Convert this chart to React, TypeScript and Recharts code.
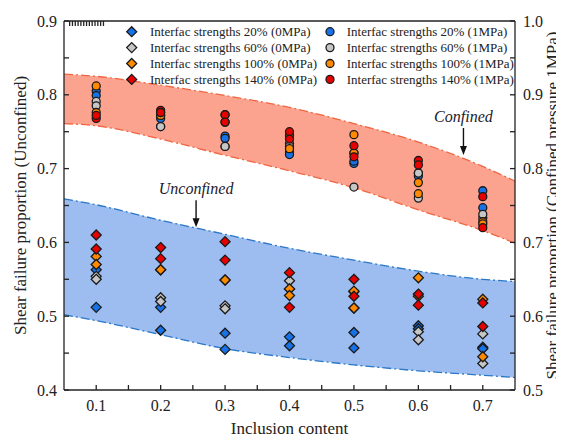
import React from 'react';
import { ComposedChart, Area, Scatter, XAxis, YAxis, ReferenceDot } from 'recharts';

const FONT = '"Liberation Serif", "Times New Roman", serif';

// inclusion content (x) for the measured points
const inclusion = [0.1, 0.2, 0.3, 0.4, 0.5, 0.6, 0.7];

// shaded envelopes
const bandX = [0.05, 0.1, 0.2, 0.3, 0.4, 0.5, 0.6, 0.7, 0.75];
const confinedUpper = [0.928, 0.925, 0.913, 0.899, 0.883, 0.861, 0.836, 0.803, 0.783];
const confinedLower = [0.861, 0.858, 0.840, 0.818, 0.797, 0.774, 0.744, 0.716, 0.699];
const unconfinedUpper = [0.659, 0.651, 0.630, 0.611, 0.592, 0.576, 0.561, 0.550, 0.547];
const unconfinedLower = [0.502, 0.494, 0.475, 0.456, 0.444, 0.434, 0.426, 0.420, 0.417];

// unconfined (0MPa), left axis - two samples per inclusion content
const uc20 = [[0.563, 0.512], [0.512, 0.481], [0.477, 0.455], [0.472, 0.460], [0.478, 0.457], [0.487, 0.483], [0.458, 0.456]];
const uc60 = [[0.554, 0.550], [0.525, 0.520], [0.514, 0.510], [0.548, 0.537], [0.533, 0.511], [0.479, 0.468], [0.476, 0.436]];
const uc100 = [[0.581, 0.570], [0.563, 0.563], [0.549, 0.549], [0.537, 0.528], [0.534, 0.511], [0.552, 0.527], [0.523, 0.445]];
const uc140 = [[0.610, 0.591], [0.593, 0.578], [0.601, 0.576], [0.559, 0.512], [0.550, 0.527], [0.530, 0.515], [0.518, 0.486]];

// confined (1MPa), right axis
const cf20 = [[0.905, 0.899], [0.868, 0.872], [0.844, 0.841], [0.822, 0.819], [0.807, 0.810], [0.790, 0.794], [0.770, 0.747]];
const cf60 = [[0.891, 0.885], [0.857, 0.857], [0.830, 0.830], [0.834, 0.830], [0.775, 0.821], [0.794, 0.760], [0.733, 0.738]];
const cf100 = [[0.912, 0.876], [0.872, 0.876], [0.863, 0.873], [0.827, 0.845], [0.846, 0.821], [0.781, 0.766], [0.728, 0.725]];
const cf140 = [[0.868, 0.872], [0.879, 0.876], [0.873, 0.863], [0.850, 0.840], [0.831, 0.816], [0.811, 0.805], [0.762, 0.720]];

const strengths = ['20%', '60%', '100%', '140%'];
const colors = ['#1672e6', '#c6c6c6', '#ff8a00', '#e60000'];

const xTicks = [0.1, 0.15, 0.2, 0.25, 0.3, 0.35, 0.4, 0.45, 0.5, 0.55, 0.6, 0.65, 0.7];
const leftTicks = [0.4, 0.45, 0.5, 0.55, 0.6, 0.65, 0.7, 0.75, 0.8, 0.85, 0.9];
const rightTicks = [0.5, 0.55, 0.6, 0.65, 0.7, 0.75, 0.8, 0.85, 0.9, 0.95, 1.0];

const bandData = bandX.map((x, i) => ({
  x,
  conf: [confinedLower[i], confinedUpper[i]],
  unconf: [unconfinedLower[i], unconfinedUpper[i]],
}));

const toPoints = (pairs: number[][]) =>
  inclusion.flatMap((x, i) => pairs[i].map((y) => ({ x, y })));

const unconfinedSets = [uc20, uc60, uc100, uc140];
const confinedSets = [cf20, cf60, cf100, cf140];

const isMajor = (v: number) => Math.abs(v * 10 - Math.round(v * 10)) < 1e-6;
const fmt = (v: number) => (isMajor(v) ? v.toFixed(1) : '');

const diamond = (color: string) => (p: any) => (
  <path
    d={`M${p.cx},${p.cy - 5}L${p.cx + 5},${p.cy}L${p.cx},${p.cy + 5}L${p.cx - 5},${p.cy}Z`}
    fill={color}
    stroke="#1a1a1a"
    strokeWidth={1.3}
  />
);
const circle = (color: string) => (p: any) => (
  <circle cx={p.cx} cy={p.cy} r={4} fill={color} stroke="#1a1a1a" strokeWidth={1.3} />
);

const annotation = (text: string) => (p: any) => (
  <g>
    <text x={p.cx} y={p.cy - 6} textAnchor="middle" fontFamily={FONT} fontStyle="italic" fontSize={16} fill="#1a1a2e">
      {text}
    </text>
    <line x1={p.cx} y1={p.cy} x2={p.cx} y2={p.cy + 22} stroke="#111" strokeWidth={1.4} />
    <path d={`M${p.cx - 3.5},${p.cy + 18}L${p.cx},${p.cy + 27}L${p.cx + 3.5},${p.cy + 18}Z`} fill="#111" />
  </g>
);

const tickStyle = { fontFamily: FONT, fontSize: 16, fill: '#222' };

const Legend = () => (
  <svg width={556} height={100} style={{ position: 'absolute', left: 0, top: 0, pointerEvents: 'none' }}>
    {strengths.map((s, i) => {
      const y = 23.7 + i * 15.9;
      const c = colors[i];
      return (
        <g key={s}>
          <path d={`M123.7,${y - 5}L128.7,${y}L123.7,${y + 5}L118.7,${y}Z`} fill={c} stroke="#1a1a1a" strokeWidth={1.3} />
          <text x={142} y={y + 4.5} fontFamily={FONT} fontSize={13} fill="#222">{`Interfac strengths ${s} (0MPa)`}</text>
          <circle cx={322} cy={y} r={4} fill={c} stroke="#1a1a1a" strokeWidth={1.3} />
          <text x={338.7} y={y + 4.5} fontFamily={FONT} fontSize={13} fill="#222">{`Interfac strengths ${s} (1MPa)`}</text>
        </g>
      );
    })}
  </svg>
);

export default function App() {
  return (
    <div style={{ position: 'relative', width: 556, height: 432 }}>
      <ComposedChart width={556} height={432} data={bandData} margin={{ top: 12, right: 0, bottom: 0, left: 0 }}>
        <XAxis
          dataKey="x"
          type="number"
          domain={[0.05, 0.75]}
          allowDataOverflow
          ticks={xTicks}
          tickFormatter={fmt}
          interval={0}
          tickSize={-5}
          tickMargin={15}
          height={50}
          stroke="#222"
          strokeWidth={1.3}
          tick={tickStyle}
          label={{ value: 'Inclusion content', position: 'insideBottom', offset: 6, style: { fontFamily: FONT, fontSize: 17, fill: '#222' } }}
        />
        <XAxis
          xAxisId="top"
          orientation="top"
          type="number"
          domain={[0.05, 0.75]}
          allowDataOverflow
          ticks={xTicks}
          tickFormatter={() => ''}
          interval={0}
          tickSize={-5}
          height={1}
          stroke="#222"
          strokeWidth={1.3}
        />
        <YAxis
          yAxisId="left"
          type="number"
          domain={[0.4, 0.9]}
          allowDataOverflow
          ticks={leftTicks}
          tickFormatter={fmt}
          interval={0}
          tickSize={-5}
          tickMargin={12}
          width={56}
          stroke="#222"
          strokeWidth={1.3}
          tick={tickStyle}
          label={{ value: 'Shear failure proportion (Unconfined)', angle: -90, position: 'insideLeft', offset: 12, style: { textAnchor: 'middle', fontFamily: FONT, fontSize: 17, fill: '#222' } }}
        />
        <YAxis
          yAxisId="right"
          orientation="right"
          type="number"
          domain={[0.5, 1.0]}
          allowDataOverflow
          ticks={rightTicks}
          tickFormatter={fmt}
          interval={0}
          tickSize={-5}
          tickMargin={13}
          width={49}
          stroke="#222"
          strokeWidth={1.3}
          tick={tickStyle}
          label={{ value: 'Shear failure proportion (Confined pressure 1MPa)', angle: -90, position: 'insideRight', offset: 12, style: { textAnchor: 'middle', fontFamily: FONT, fontSize: 17, fill: '#222' } }}
        />

        <Area
          yAxisId="right"
          dataKey="conf"
          type="monotone"
          fill="#fca390"
          fillOpacity={1}
          stroke="#f2653f"
          strokeWidth={1.3}
          strokeDasharray="9 3 2 3"
          dot={false}
          activeDot={false}
          isAnimationActive={false}
        />
        <Area
          yAxisId="left"
          dataKey="unconf"
          type="monotone"
          fill="#9dbdf0"
          fillOpacity={1}
          stroke="#2a78c8"
          strokeWidth={1.3}
          strokeDasharray="9 3 2 3"
          dot={false}
          activeDot={false}
          isAnimationActive={false}
        />

        {unconfinedSets.map((set, i) => (
          <Scatter
            key={`uc${i}`}
            yAxisId="left"
            data={toPoints(set)}
            dataKey="y"
            fill={colors[i]}
            shape={diamond(colors[i])}
            isAnimationActive={false}
          />
        ))}
        {confinedSets.map((set, i) => (
          <Scatter
            key={`cf${i}`}
            yAxisId="right"
            data={toPoints(set)}
            dataKey="y"
            fill={colors[i]}
            shape={circle(colors[i])}
            isAnimationActive={false}
          />
        ))}

        <ReferenceDot yAxisId="right" x={0.67} y={0.855} r={0} shape={annotation('Confined')} />
        <ReferenceDot yAxisId="left" x={0.255} y={0.657} r={0} shape={annotation('Unconfined')} />
      </ComposedChart>
      <Legend />
    </div>
  );
}
